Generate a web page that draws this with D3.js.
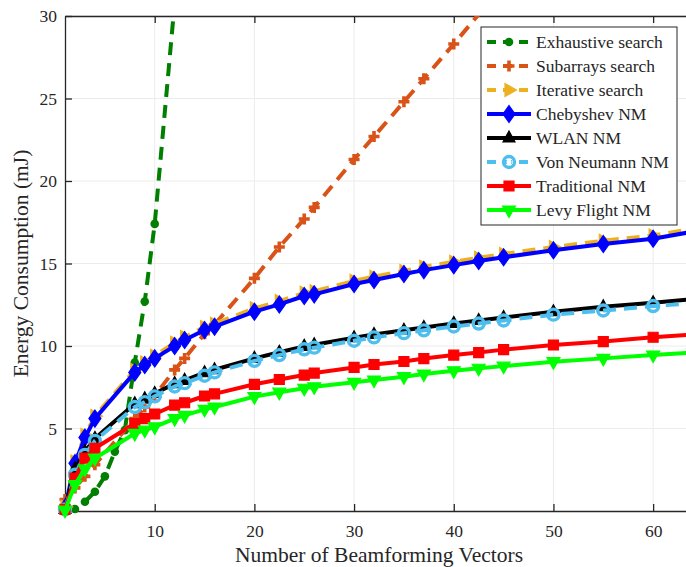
<!DOCTYPE html>
<html><head><meta charset="utf-8">
<script src="https://cdn.jsdelivr.net/npm/d3@7"></script>
<style>
html,body{margin:0;padding:0;background:#fff;}
svg{display:block;}
text{font-family:"Liberation Serif","Times New Roman",serif;fill:#262626;}
</style></head>
<body>
<svg id="chart" width="686" height="567"></svg>
<script>
// ---------- data ----------
const xNM = [1,2,3,4,8,9,10,12,13,15,16,20,22.5,25,26,30,32,35,37,40,42.5,45,50,55,60,64];
const xExhaustive = [1,2,3,4,5,6,7,8,9,10,12,13];
const exhaustive = [0.05,0.12,0.56,1.17,2.1,3.6,4.9,9.0,12.7,17.4,30.8,45];
const subarrays = [0.7,1.4,2.1,2.8,5.6,6.3,7.0,8.55,9.25,10.75,11.3,14.1,16.0,17.7,18.4,21.3,22.7,24.8,26.2,28.3,30.1,31.8,35.3,38.8,42.3,45.1];
const iterative = [0.25,3.0,4.6,5.75,8.55,9.0,9.4,10.2,10.55,11.15,11.35,12.28,12.72,13.22,13.32,13.95,14.2,14.55,14.8,15.1,15.35,15.58,16.0,16.38,16.7,17.1];
const chebyshev = [0.2,2.9,4.45,5.6,8.4,8.85,9.25,10.0,10.36,10.97,11.17,12.08,12.52,13.03,13.13,13.76,14.0,14.36,14.6,14.9,15.15,15.38,15.8,16.18,16.5,16.93];
const wlan = [0.1,2.55,3.6,4.4,6.5,6.8,7.12,7.72,7.92,8.38,8.56,9.25,9.62,9.98,10.08,10.5,10.7,10.95,11.12,11.37,11.55,11.73,12.08,12.38,12.62,12.85];
const vonNeumann = [0.1,2.2,3.4,4.25,6.3,6.6,6.95,7.55,7.75,8.2,8.4,9.1,9.45,9.8,9.9,10.32,10.52,10.78,10.95,11.18,11.36,11.55,11.9,12.15,12.42,12.6];
const traditional = [0.1,2.0,3.2,3.8,5.3,5.6,5.88,6.42,6.56,6.97,7.1,7.68,7.97,8.24,8.36,8.7,8.88,9.06,9.24,9.45,9.6,9.78,10.06,10.27,10.53,10.7];
const levy = [0.05,1.6,2.55,3.2,4.7,4.9,5.1,5.6,5.8,6.16,6.3,6.93,7.2,7.44,7.53,7.8,7.94,8.14,8.3,8.5,8.65,8.78,9.05,9.25,9.45,9.6];
const xTicks = [10,20,30,40,50,60];
const yTicks = [5,10,15,20,25,30];
const seriesNames = ["Exhaustive search","Subarrays search","Iterative search","Chebyshev NM","WLAN NM","Von Neumann NM","Traditional NM","Levy Flight NM"];
const xLabel = "Number of Beamforming Vectors";
const yLabel = "Energy Consumption (mJ)";

// ---------- styles ----------
const DASH = "13,8";
const styles = [
  {color:"#007F00", dash:DASH, marker:"circleFill", xs:xExhaustive, ys:exhaustive},
  {color:"#D95319", dash:DASH, marker:"plus", xs:xNM, ys:subarrays},
  {color:"#EDB120", dash:DASH, marker:"triRight", xs:xNM, ys:iterative},
  {color:"#0000FF", dash:null, marker:"diamond", xs:xNM, ys:chebyshev},
  {color:"#000000", dash:null, marker:"triUp", xs:xNM, ys:wlan},
  {color:"#4DBEEE", dash:DASH, marker:"circleOpen", xs:xNM, ys:vonNeumann},
  {color:"#FF0000", dash:null, marker:"square", xs:xNM, ys:traditional},
  {color:"#00FF00", dash:null, marker:"triDown", xs:xNM, ys:levy}
];

const svg = d3.select("#chart");
const L = 65, R = 693, T = 16, B = 511;
const x = d3.scaleLinear().domain([1,64]).range([L,R]);
const y = d3.scaleLinear().domain([0,30]).range([B,T]);

svg.append("defs").append("clipPath").attr("id","plotclip")
  .append("rect").attr("x",L).attr("y",T).attr("width",R-L).attr("height",B-T);

// grid
const grid = svg.append("g");
xTicks.forEach(t=>grid.append("line").attr("x1",x(t)).attr("x2",x(t)).attr("y1",T).attr("y2",B).attr("stroke","#ececec").attr("stroke-width",1));
yTicks.forEach(t=>grid.append("line").attr("x1",L).attr("x2",R).attr("y1",y(t)).attr("y2",y(t)).attr("stroke","#ececec").attr("stroke-width",1));

// axes
const xAxis = d3.axisBottom(x).tickValues(xTicks).tickSizeInner(-7).tickSizeOuter(0).tickPadding(14);
const gx = svg.append("g").attr("transform",`translate(0,${B})`).call(xAxis);
const xAxisTop = d3.axisTop(x).tickValues(xTicks).tickSizeInner(-7).tickSizeOuter(0).tickFormat("");
const gxt = svg.append("g").attr("transform",`translate(0,${T})`).call(xAxisTop);
const yAxis = d3.axisLeft(y).tickValues(yTicks).tickSizeInner(-7).tickSizeOuter(0).tickPadding(8);
const gy = svg.append("g").attr("transform",`translate(${L},0)`).call(yAxis);
[gx,gxt,gy].forEach(g=>{
  g.select(".domain").attr("stroke","#262626").attr("stroke-width",1.3);
  g.selectAll(".tick line").attr("stroke","#262626").attr("stroke-width",1.3);
  g.selectAll(".tick text").style("font-family",'"Liberation Serif","Times New Roman",serif').style("font-size","17.5px").attr("fill","#262626");
});

// markers
function markerPath(type){
  switch(type){
    case "diamond": return "M0,-8.5L6,0L0,8.5L-6,0Z";
    case "triUp": return "M0,-7L6,4L-6,4Z";
    case "triDown": return "M0,7.5L6.5,-4L-6.5,-4Z";
    case "triRight": return "M7.5,0L-4,-6.5L-4,6.5Z";
    case "square": return "M-5,-5H5V5H-5Z";
    case "plus": return "M-5.5,0H5.5M0,-5.5V5.5";
  }
  return null;
}
function drawMarker(g, type, color, cx, cy){
  if(type==="circleFill"){
    g.append("circle").attr("cx",cx).attr("cy",cy).attr("r",4.3).attr("fill",color);
  } else if(type==="circleOpen"){
    g.append("circle").attr("cx",cx).attr("cy",cy).attr("r",5.5).attr("fill","none").attr("stroke",color).attr("stroke-width",3.4);
  } else if(type==="plus"){
    g.append("path").attr("d",markerPath(type)).attr("transform",`translate(${cx},${cy})`).attr("stroke",color).attr("stroke-width",3.6).attr("fill","none");
  } else {
    g.append("path").attr("d",markerPath(type)).attr("transform",`translate(${cx},${cy})`).attr("fill",color).attr("stroke",color).attr("stroke-width",1.2).attr("stroke-linejoin","miter");
  }
}

const line = d3.line().x(d=>x(d[0])).y(d=>y(d[1]));
const plot = svg.append("g");
styles.forEach(s=>{
  const pts = s.xs.map((xx,i)=>[xx,s.ys[i]]);
  const g = plot.append("g");
  g.append("path").datum(pts).attr("d",line).attr("clip-path","url(#plotclip)")
    .attr("fill","none").attr("stroke",s.color).attr("stroke-width",4)
    .attr("stroke-dasharray",s.dash).attr("stroke-linejoin","round");
  pts.filter(p=>p[1]<=30 && p[0]<=64).forEach(p=>drawMarker(g,s.marker,s.color,x(p[0]),y(p[1])));
});

// labels
svg.append("text").attr("x",(L+R)/2).attr("y",562).attr("text-anchor","middle")
  .style("font-size","21.5px").text(xLabel);
svg.append("text").attr("transform",`translate(28,${(T+B)/2}) rotate(-90)`).attr("text-anchor","middle")
  .style("font-size","21.5px").text(yLabel);

// legend
const lg = svg.append("g");
const lx = 481, ly = 27, lw = 196, lh = 198, rowH = 24;
lg.append("rect").attr("x",lx).attr("y",ly).attr("width",lw).attr("height",lh).attr("fill","#fff").attr("stroke","#262626").attr("stroke-width",1);
styles.forEach((s,i)=>{
  const cy = ly + 15 + i*rowH;
  lg.append("line").attr("x1",lx+6).attr("x2",lx+50).attr("y1",cy).attr("y2",cy)
    .attr("stroke",s.color).attr("stroke-width",4).attr("stroke-dasharray",s.dash ? "9,7" : null);
  drawMarker(lg, s.marker, s.color, lx+28, cy);
  if(s.marker==="circleOpen"){ lg.append("circle").attr("cx",lx+28).attr("cy",cy).attr("r",2.5).attr("fill","#fff"); }
  lg.append("text").attr("x",lx+55).attr("y",cy+6).style("font-size","17.5px").attr("fill","#000").text(seriesNames[i]);
});
</script>
</body></html>
